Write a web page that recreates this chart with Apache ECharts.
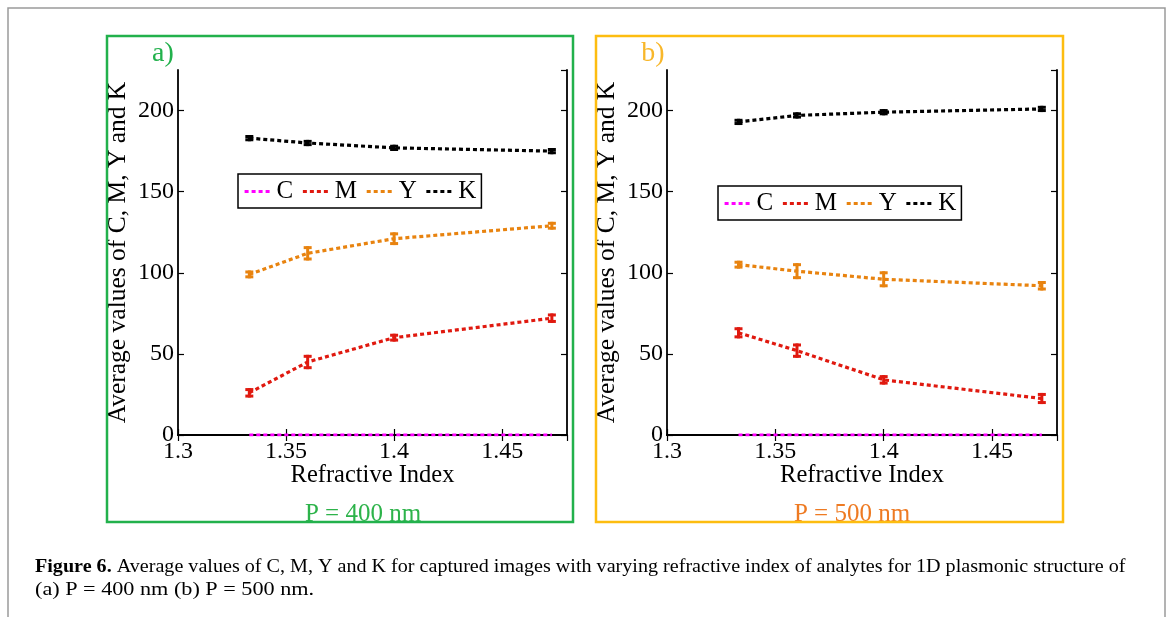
<!DOCTYPE html>
<html><head><meta charset="utf-8">
<script src="https://cdn.jsdelivr.net/npm/echarts@6/dist/echarts.min.js"></script>
<style>html,body{margin:0;padding:0;background:#fff}#c{width:1167px;height:617px}</style>
</head><body><div id="c"></div>
<script>
// ---- data ----
var refractiveIndex = [1.333, 1.36, 1.4, 1.473];
var seriesNames = ['C', 'M', 'Y', 'K'];
// panel a) P = 400 nm
var aC = [0, 0, 0, 0];
var aM = [26, 45, 60, 72];
var aY = [99, 112, 121, 129];
var aK = [183, 180, 177, 175];
var aMErr = [2, 3.5, 1.5, 2];
var aYErr = [1.5, 3.5, 3, 1.5];
var aKErr = [1, 1, 1, 1];
// panel b) P = 500 nm
var bC = [0, 0, 0, 0];
var bM = [63, 52, 34, 22.5];
var bY = [105, 101, 96, 92];
var bK = [193, 197, 199, 201];
var bMErr = [2.5, 3.5, 2, 2.5];
var bYErr = [1.5, 4, 4, 2];
var bKErr = [1, 1, 1, 1];
var xTickLabels = ['1.3', '1.35', '1.4', '1.45'];
var yTickLabels = ['0', '50', '100', '150', '200'];
var panelTitles = ['a)', 'b)'];
var panelSubtitles = ['P = 400 nm', 'P = 500 nm'];
var xAxisName = 'Refractive Index';
var yAxisName = 'Average values of C, M, Y and K';
var captionBold = 'Figure 6.';
var captionLine1 = ' Average values of C, M, Y and K for captured images with varying refractive index of analytes for 1D plasmonic structure of';
var captionLine2 = '(a) P = 400 nm (b) P = 500 nm.';

// ---- styles ----
var FONT = 'Liberation Serif';
var colors = {C: '#ff00ff', M: '#e0190f', Y: '#e8830f', K: '#000000'};
var grids = [
  {left: 178, top: 70, width: 389, height: 365},
  {left: 667, top: 70, width: 390, height: 365}
];

var xAxes = [], yAxes = [], series = [];
function pairs(ys) { return refractiveIndex.map(function (x, i) { return [x, ys[i]]; }); }
function errs(ys, es) { return refractiveIndex.map(function (x, i) { return [x, ys[i] - es[i], ys[i] + es[i]]; }); }

function errRender(params, api) {
  var x = api.value(0), lo = api.value(1), hi = api.value(2);
  var p1 = api.coord([x, lo]), p2 = api.coord([x, hi]);
  var hw = 4;
  var st = {stroke: api.visual('color'), lineWidth: 3};
  return {type: 'group', children: [
    {type: 'line', shape: {x1: p1[0], y1: p1[1] + 1.5, x2: p2[0], y2: p2[1] - 1.5}, style: st},
    {type: 'line', shape: {x1: p1[0] - hw, y1: p1[1], x2: p1[0] + hw, y2: p1[1]}, style: st},
    {type: 'line', shape: {x1: p2[0] - hw, y1: p2[1], x2: p2[0] + hw, y2: p2[1]}, style: st}
  ]};
}

var panels = [
  {C: aC, M: aM, Y: aY, K: aK, err: {M: aMErr, Y: aYErr, K: aKErr}},
  {C: bC, M: bM, Y: bY, K: bK, err: {M: bMErr, Y: bYErr, K: bKErr}}
];

panels.forEach(function (p, g) {
  var axisLine = {show: true, lineStyle: {color: '#000', width: 1.8}};
  var tick = {show: true, inside: true, length: 6, lineStyle: {color: '#000', width: 1.2}};
  var lbl = {color: '#000', fontFamily: FONT, fontSize: 24};
  xAxes.push({type: 'value', gridIndex: g, min: 1.3, max: 1.48, interval: 0.05, position: 'bottom',
    axisLine: axisLine, axisTick: tick, splitLine: {show: false},
    axisLabel: Object.assign({margin: 5, showMaxLabel: false, formatter: function (v) {
      var s = String(+v.toFixed(2)); return xTickLabels.indexOf(s) >= 0 ? s : ''; }}, lbl),
    name: xAxisName, nameLocation: 'middle', nameGap: 28, nameMoveOverlap: false,
    nameTextStyle: {color: '#000', fontFamily: FONT, fontSize: 24.5, verticalAlign: 'top'}});
  xAxes.push({type: 'value', gridIndex: g, min: 1.3, max: 1.48, interval: 0.05, position: 'top',
    axisLine: axisLine, axisTick: tick, splitLine: {show: false}, axisLabel: {show: false}});
  yAxes.push({type: 'value', gridIndex: g, min: 0, max: 225, interval: 50, position: 'left',
    axisLine: axisLine, axisTick: tick, splitLine: {show: false},
    axisLabel: Object.assign({margin: 4, showMaxLabel: false, formatter: function (v) {
      var s = String(v); return yTickLabels.indexOf(s) >= 0 ? s : ''; }}, lbl),
    name: yAxisName, nameLocation: 'middle', nameGap: 47,
    nameTextStyle: {color: '#000', fontFamily: FONT, fontSize: 25.5}});
  yAxes.push({type: 'value', gridIndex: g, min: 0, max: 225, interval: 50, position: 'right',
    axisLine: axisLine, axisTick: tick, splitLine: {show: false}, axisLabel: {show: false}});

  seriesNames.forEach(function (n) {
    series.push({name: n, type: 'line', xAxisIndex: g * 2, yAxisIndex: g * 2, data: pairs(p[n]),
      symbol: 'none', color: colors[n], z: 5,
      lineStyle: {color: colors[n], width: 3.2, type: [4, 3], cap: 'butt'}});
    if (p.err[n]) {
      series.push({name: n + '_err', type: 'custom', xAxisIndex: g * 2, yAxisIndex: g * 2,
        data: errs(p[n], p.err[n]), renderItem: errRender, itemStyle: {color: colors[n]}, z: 6,
        encode: {x: 0, y: [1, 2]}});
    }
  });
});

var legendBase = {data: seriesNames, orient: 'horizontal', itemWidth: 27, itemHeight: 14, itemGap: 8,
  padding: [5, 5, 4, 5], borderColor: '#000', borderWidth: 1.5, backgroundColor: '#fff',
  itemStyle: {color: 'rgba(0,0,0,0)', borderColor: 'rgba(0,0,0,0)', borderWidth: 0, opacity: 0},
  lineStyle: {width: 3.2},
  textStyle: {color: '#000', fontFamily: FONT, fontSize: 25}, selectedMode: false};
var legends = [
  Object.assign({left: 238, top: 174}, legendBase),
  Object.assign({left: 718, top: 186}, legendBase)
];

var graphic = [
  {type: 'rect', shape: {x: 8, y: 8, width: 1157, height: 640}, style: {fill: 'none', stroke: '#9a9a9a', lineWidth: 1.5}, z: 1},
  {type: 'text', style: {text: panelSubtitles[0], x: 363, y: 514, align: 'center', verticalAlign: 'middle', fill: '#2db34a', font: '25px ' + FONT}, z: 2},
  {type: 'text', style: {text: panelSubtitles[1], x: 852, y: 514, align: 'center', verticalAlign: 'middle', fill: '#ee7a22', font: '25px ' + FONT}, z: 2},
  {type: 'rect', shape: {x: 107, y: 36, width: 466, height: 486}, style: {fill: 'none', stroke: '#22b14c', lineWidth: 2.5}, z: 3},
  {type: 'rect', shape: {x: 596, y: 36, width: 467, height: 486}, style: {fill: 'none', stroke: '#fdbd10', lineWidth: 2.5}, z: 3},
  {type: 'text', style: {text: panelTitles[0], x: 163, y: 54, align: 'center', verticalAlign: 'middle', fill: '#22b14c', font: '28px ' + FONT}, z: 3},
  {type: 'text', style: {text: panelTitles[1], x: 653, y: 54, align: 'center', verticalAlign: 'middle', fill: '#f8b72a', font: '28px ' + FONT}, z: 3},
  {type: 'text', x: 35, y: 567, scaleX: 1.087, style: {text: '{b|' + captionBold + '}' + captionLine1, verticalAlign: 'middle', fill: '#000', font: '18.5px ' + FONT,
    rich: {b: {fontWeight: 'bold', fontFamily: FONT, fontSize: 18.5, fill: '#000'}}}, z: 3},
  {type: 'text', x: 35, y: 590, scaleX: 1.2, style: {text: captionLine2, verticalAlign: 'middle', fill: '#000', font: '18.5px ' + FONT}, z: 3}
];

var chart = echarts.init(document.getElementById('c'), null, {renderer: 'canvas'});
chart.setOption({
  animation: false,
  backgroundColor: '#fff',
  grid: grids,
  xAxis: xAxes,
  yAxis: yAxes,
  legend: legends,
  series: series,
  graphic: graphic
});
</script></body></html>
